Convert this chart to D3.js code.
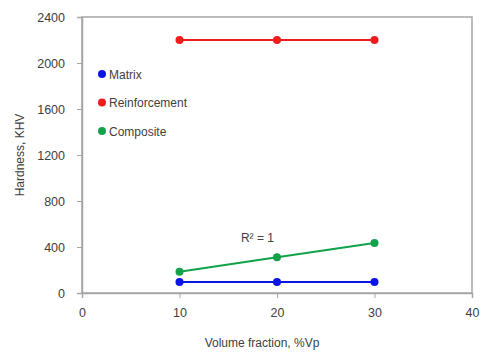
<!DOCTYPE html>
<html>
<head>
<meta charset="utf-8">
<script src="https://cdn.jsdelivr.net/npm/d3@7"></script>
<style>
  body { margin: 0; background: #fff; }
  text { font-family: "Liberation Sans", Arial, sans-serif; }
</style>
</head>
<body>
<svg id="chart"></svg>
<script>
// data
const volumeFraction = [10, 20, 30];
const matrix = [95, 95, 95];
const reinforcement = [2200, 2200, 2200];
const composite = [185, 310, 435];
const xTicks = [0, 10, 20, 30, 40];
const yTicks = [0, 400, 800, 1200, 1600, 2000, 2400];

const series = [
  { name: 'Matrix', values: matrix, color: '#0a14e6' },
  { name: 'Reinforcement', values: reinforcement, color: '#ee1c1c' },
  { name: 'Composite', values: composite, color: '#12a24a' }
];

const width = 480, height = 356;
const margin = { top: 17, right: 8, bottom: 63, left: 82 };

const svg = d3.select('#chart')
  .attr('width', width)
  .attr('height', height);

const x = d3.scaleLinear().domain([0, 40]).range([margin.left, width - margin.right]);
const y = d3.scaleLinear().domain([0, 2400]).range([height - margin.bottom, margin.top]);

const axisColor = '#a6a6a6';
const textColor = '#404040';

// plot frame
svg.append('rect')
  .attr('x', x(0))
  .attr('y', y(2400))
  .attr('width', x(40) - x(0))
  .attr('height', y(0) - y(2400))
  .attr('fill', 'none')
  .attr('stroke', axisColor)
  .attr('stroke-width', 1.5);

// axes
const xAxis = svg.append('g')
  .attr('transform', `translate(0, ${y(0)})`)
  .call(d3.axisBottom(x).tickValues(xTicks).tickFormat(d3.format('d')).tickSize(5).tickPadding(10));

const yAxis = svg.append('g')
  .attr('transform', `translate(${x(0)}, 0)`)
  .call(d3.axisLeft(y).tickValues(yTicks).tickFormat(d3.format('d')).tickSize(5).tickPadding(12));

[xAxis, yAxis].forEach(a => {
  a.select('.domain').attr('stroke', axisColor).attr('stroke-width', 1.5);
  a.selectAll('.tick line').attr('stroke', axisColor);
  a.selectAll('.tick text')
    .style('font-size', '12.5px')
    .style('font-family', '"Liberation Sans", Arial, sans-serif')
    .attr('fill', textColor);
});

// axis titles
svg.append('text')
  .attr('x', (x(0) + x(40)) / 2 - 15)
  .attr('y', 347)
  .attr('text-anchor', 'middle')
  .style('font-size', '12px')
  .attr('fill', textColor)
  .text('Volume fraction, %Vp');

svg.append('text')
  .attr('transform', `translate(24, ${(y(0) + y(2400)) / 2}) rotate(-90)`)
  .attr('text-anchor', 'middle')
  .style('font-size', '12px')
  .attr('fill', textColor)
  .text('Hardness, KHV');

// lines and markers
const line = d3.line()
  .x((d, i) => x(volumeFraction[i]))
  .y(d => y(d));

series.forEach(s => {
  svg.append('path')
    .datum(s.values)
    .attr('d', line)
    .attr('fill', 'none')
    .attr('stroke', s.color)
    .attr('stroke-width', 2);

  svg.selectAll(null)
    .data(s.values)
    .enter().append('circle')
    .attr('cx', (d, i) => x(volumeFraction[i]))
    .attr('cy', d => y(d))
    .attr('r', 4)
    .attr('fill', s.color);
});

// trendline label
svg.append('text')
  .attr('x', x(16.3))
  .attr('y', y(440))
  .style('font-size', '12px')
  .attr('fill', textColor)
  .text('R² = 1');

// legend
const legend = svg.selectAll('.legend')
  .data(series)
  .enter().append('g')
  .attr('class', 'legend')
  .attr('transform', (d, i) => `translate(102, ${74 + i * 28.5})`);

legend.append('circle')
  .attr('r', 4)
  .attr('fill', d => d.color);

legend.append('text')
  .attr('x', 7)
  .attr('y', 4.5)
  .style('font-size', '12px')
  .attr('fill', textColor)
  .text(d => d.name);
</script>
</body>
</html>
